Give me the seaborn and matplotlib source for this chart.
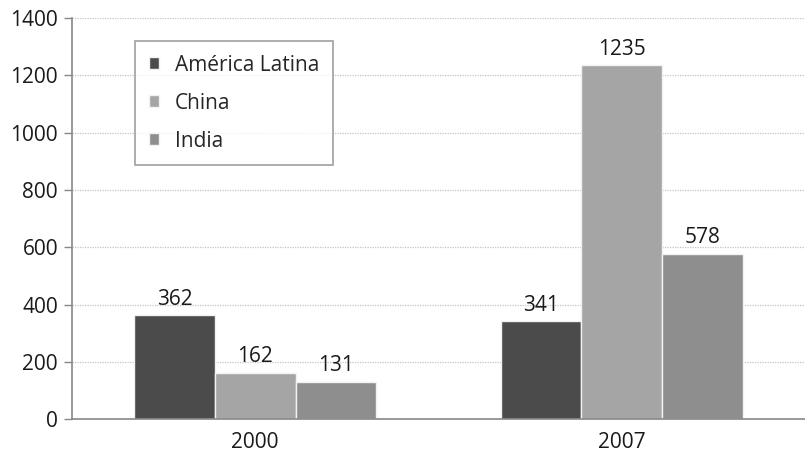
import matplotlib
matplotlib.use("Agg")
import matplotlib.pyplot as plt
import numpy as np
import pandas as pd
import seaborn as sns

# dados
anos = ["2000", "2007"]
regioes = ["América Latina", "China", "India"]
america_latina = [362, 341]
china = [162, 1235]
india = [131, 578]

cores = ["#4b4b4b", "#a5a5a5", "#8e8e8e"]

df = pd.DataFrame({
    "ano": anos * 3,
    "regiao": [r for r in regioes for _ in anos],
    "valor": america_latina + china + india,
})

sns.set_theme(style="white")
plt.rcParams["font.family"] = ["Open Sans", "DejaVu Sans"]
plt.rcParams["font.size"] = 15

fig = plt.figure(figsize=(8.05, 4.54), dpi=100)
ax = fig.add_axes([0.0894, 0.077, 0.9106, 0.883])

sns.barplot(data=df, x="ano", y="valor", hue="regiao", hue_order=regioes,
            palette=cores, width=0.66, edgecolor="#f2f2f2", linewidth=1,
            saturation=1, ax=ax, legend=True)

# rótulos de valor
for cont in ax.containers:
    ax.bar_label(cont, fmt="%d", padding=4, fontsize=15, color="#1a1a1a")

ax.set_ylim(0, 1400)
ax.set_xlim(-0.5, 1.5)
ax.set_yticks(np.arange(0, 1401, 200))
ax.yaxis.grid(True, linestyle=(0, (1, 1)), color="#c4c4c4", linewidth=0.9)
ax.set_axisbelow(True)
ax.set_xlabel("")
ax.set_ylabel("")

ax.set_xticks([-0.5, 0.5, 1.5], minor=True)
ax.tick_params(axis="x", which="major", length=0, labelsize=15, pad=9, colors="#1a1a1a")
ax.tick_params(axis="x", which="minor", length=6, width=1, color="#888888", direction="inout")
ax.tick_params(axis="y", which="major", length=6, width=1, labelsize=15,
               labelcolor="#1a1a1a", color="#888888", left=True, pad=4)

for s in ["top", "right"]:
    ax.spines[s].set_visible(False)
for s in ["left", "bottom"]:
    ax.spines[s].set_color("#888888")
    ax.spines[s].set_linewidth(1.2)

leg = ax.legend(title=None, loc="upper left", bbox_to_anchor=(0.086, 0.943),
                borderaxespad=0, frameon=True, fancybox=False, fontsize=15,
                handlelength=0.5, handleheight=0.5, handletextpad=0.75,
                labelspacing=0.82, borderpad=0.65, edgecolor="#888888")
leg.get_frame().set_linewidth(1.2)

fig.savefig("out.png", dpi=100)
